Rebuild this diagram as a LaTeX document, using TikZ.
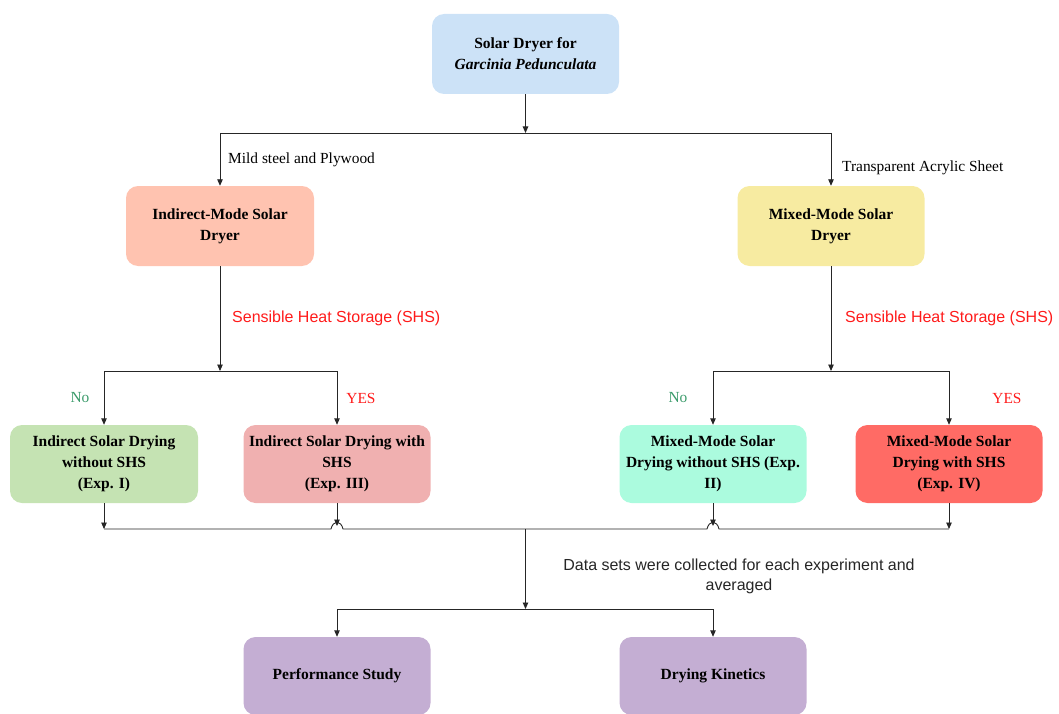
\documentclass[tikz,border=0pt]{standalone}
\usepackage{fontspec}
\setmainfont{Liberation Serif}
\newfontfamily\arialf{Liberation Sans}
\usetikzlibrary{arrows.meta}
\definecolor{cTop}{HTML}{CCE2F7}
\definecolor{cInd}{HTML}{FFC3B0}
\definecolor{cMix}{HTML}{F7EBA1}
\definecolor{cGreen}{HTML}{C5E3B3}
\definecolor{cPink}{HTML}{F0B0B0}
\definecolor{cMint}{HTML}{ABFBDE}
\definecolor{cRed}{HTML}{FF6B65}
\definecolor{cPurple}{HTML}{C4AED3}
\definecolor{cLine}{HTML}{262626}
\definecolor{cNo}{HTML}{3A9A6A}
\definecolor{cYes}{HTML}{FF1A1A}
\tikzset{
  box/.style={rounded corners=12pt, draw=none, align=center, inner sep=2pt,
    minimum width=187pt, font=\bfseries\fontsize{15.5}{21}\selectfont, text=black},
  link/.style={draw=cLine, line width=0.9pt, -{Triangle[length=6.5pt,width=5.5pt]}},
  bar/.style={draw=cLine, line width=0.9pt},
  lab/.style={font=\fontsize{15.4}{18}\selectfont, inner sep=0pt},
  redlab/.style={font=\arialf\fontsize{16}{19}\selectfont, text=cYes, inner sep=0pt},
}
\begin{document}
\begin{tikzpicture}[x=1pt,y=-1pt]
\useasboundingbox (0,0) rectangle (1059,714);
% nodes
\node[box, fill=cTop, minimum height=80pt] (top) at (525.5,54) {Solar Dryer for\\\textit{Garcinia Pedunculata}};
\node[box, fill=cInd, minimum height=80pt, minimum width=188pt] (ind) at (220,226) {Indirect-Mode Solar\\Dryer};
\node[box, fill=cMix, minimum height=80pt] (mix) at (831,226) {Mixed-Mode Solar\\Dryer};
\node[box, fill=cGreen, minimum height=78pt, minimum width=188pt] (e1) at (104,464) {Indirect Solar Drying\\without SHS\\(Exp. I)};
\node[box, fill=cPink, minimum height=78pt] (e3) at (337,464) {Indirect Solar Drying with\\SHS\\(Exp. III)};
\node[box, fill=cMint, minimum height=78pt] (e2) at (713,464) {Mixed-Mode Solar\\Drying without SHS (Exp.\\II)};
\node[box, fill=cRed, minimum height=78pt] (e4) at (949,464) {Mixed-Mode Solar\\Drying with SHS\\(Exp. IV)};
\node[box, fill=cPurple, minimum height=78pt] (perf) at (337,676) {Performance Study};
\node[box, fill=cPurple, minimum height=78pt] (dk) at (713,676) {Drying Kinetics};
% junction coordinates
\coordinate (j1) at (525.5,133);
\coordinate (j1l) at (220,133);
\coordinate (j1r) at (831,133);
\coordinate (j2l) at (220,371);
\coordinate (j2a) at (104,371);
\coordinate (j2b) at (337,371);
\coordinate (j3r) at (831,371);
\coordinate (j3a) at (713,371);
\coordinate (j3b) at (949,371);
\coordinate (b1) at (104,529);
\coordinate (b3) at (337,529);
\coordinate (b2) at (713,529);
\coordinate (b4) at (949,529);
\coordinate (bm) at (525.5,529);
\coordinate (c1) at (525.5,609);
\coordinate (cl) at (337,609);
\coordinate (cr) at (713,609);
% connectors
\draw[link] (top.south) -- (j1);
\draw[bar] (j1l) -- (j1r);
\draw[link] (j1l) -- (ind.north);
\draw[link] (j1r) -- (mix.north);
\draw[link] (ind.south) -- (j2l);
\draw[bar] (j2a) -- (j2b);
\draw[link] (j2a) -- (e1.north);
\draw[link] (j2b) -- (e3.north);
\draw[link] (mix.south) -- (j3r);
\draw[bar] (j3a) -- (j3b);
\draw[link] (j3a) -- (e2.north);
\draw[link] (j3b) -- (e4.north);
\draw[link] (e1.south) -- (b1);
\draw[link] (e3.south) -- ([yshift=3pt]b3);
\draw[link] (e2.south) -- ([yshift=3pt]b2);
\draw[link] (e4.south) -- (b4);
\draw[bar] (b1) -- ([xshift=-6pt]b3) .. controls ([xshift=-4pt,yshift=9pt]b3) and ([xshift=4pt,yshift=9pt]b3) .. ([xshift=6pt]b3)
  -- ([xshift=-6pt]b2) .. controls ([xshift=-4pt,yshift=9pt]b2) and ([xshift=4pt,yshift=9pt]b2) .. ([xshift=6pt]b2) -- (b4);
\draw[link] (bm) -- (c1);
\draw[bar] (cl) -- (cr);
\draw[link] (cl) -- (perf.north);
\draw[link] (cr) -- (dk.north);
% labels
\node[lab, anchor=west] (l1) at (228,160) {Mild steel and Plywood};
\node[lab, anchor=west] (l2) at (842,168) {Transparent Acrylic Sheet};
\node[redlab, anchor=west] (s1) at (232,318) {Sensible Heat Storage (SHS)};
\node[redlab, anchor=west] (s2) at (845,318) {Sensible Heat Storage (SHS)};
\node[lab, text=cNo] (n1) at (80,398) {No};
\node[lab, text=cYes] (y1) at (361,398) {YES};
\node[lab, text=cNo] (n2) at (678,398) {No};
\node[lab, text=cYes] (y2) at (1007,398) {YES};
\node[align=center, inner sep=0pt, text=black!85, font=\arialf\fontsize{16}{19.5}\selectfont] (data) at (739,576.5) {Data sets were collected for each experiment and\\averaged};
\end{tikzpicture}
\end{document}
